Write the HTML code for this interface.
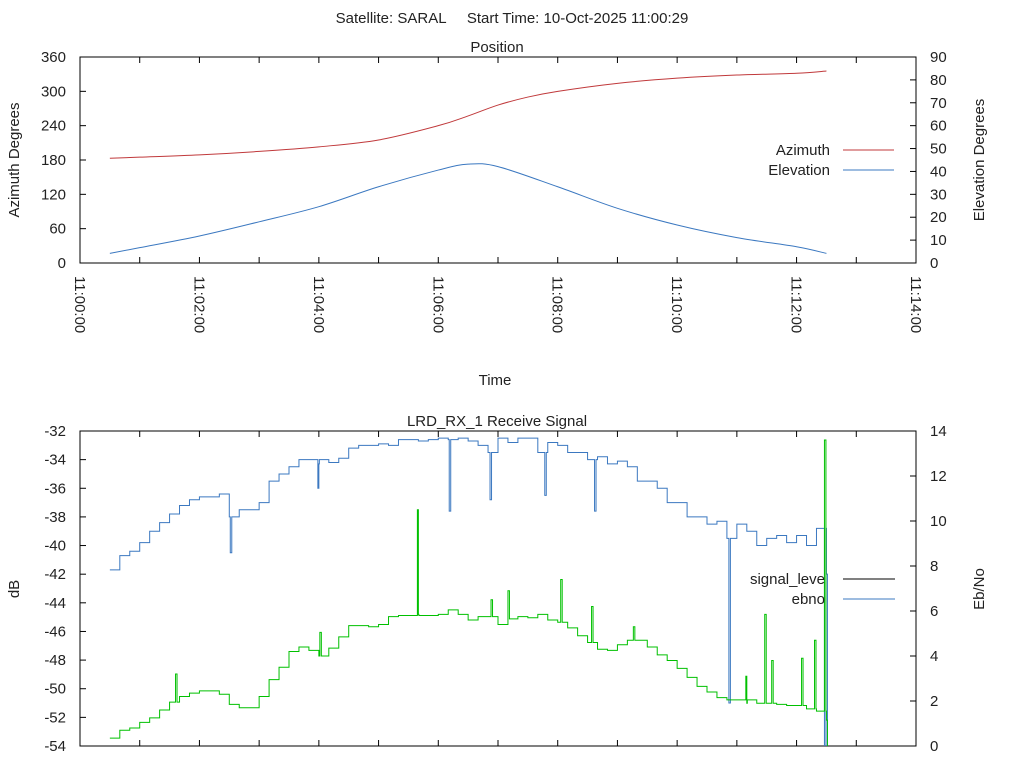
<!DOCTYPE html>
<html><head><meta charset="utf-8"><style>
body{margin:0;background:#fff}
svg{display:block;font-family:"Liberation Sans",sans-serif;font-size:15px;fill:#222}
</style></head><body>
<svg id="c" width="1024" height="768" xmlns="http://www.w3.org/2000/svg">
<defs>
<clipPath id="clipTop"><rect x="80" y="57" width="836" height="206"/></clipPath>
<clipPath id="clipBot"><rect x="80" y="431" width="836" height="315"/></clipPath>
</defs>
<text x="512" y="23" text-anchor="middle" style="white-space:pre">Satellite: SARAL     Start Time: 10-Oct-2025 11:00:29</text>
<g id="topPanel"></g>
<g id="botPanel"></g>
</svg>
<script>
// Position data (minutes after 11:00:00)
const posTimes = [0.5,1,2,3,4,5,6,6.5,7,7.5,8,9,10,11,12,12.5];
const azimuthValues = [183,185,189,195,203,215,240,257,276,290,300,314,323,328.5,331.5,335.5];
const elevTimes = [0.5,1,2,3,4,5,6,6.5,7,8,9,10,11,12,12.5];
const elevationValues = [4.2,6.7,11.8,18,24.6,33.3,40.6,43.2,42.1,33.3,23.9,16.6,11.1,7.1,4.2];
const xTickLabels = ["11:00:00","11:02:00","11:04:00","11:06:00","11:08:00","11:10:00","11:12:00","11:14:00"];
const azTicks = [0,60,120,180,240,300,360];
const elTicks = [0,10,20,30,40,50,60,70,80,90];
const dbTicks = [-32,-34,-36,-38,-40,-42,-44,-46,-48,-50,-52,-54];
const ebTicks = [0,2,4,6,8,10,12,14];
// Receive signal: sampled every 10 s from 30 s to 750 s
const sigStart = 30;
const signalValues = [-41.7,-40.7,-40.4,-39.8,-39,-38.4,-37.8,-37.2,-36.8,-36.6,-36.6,-36.4,-38,-37.5,-37.5,-37,-35.5,-35,-34.5,-34,-34,-34.3,-34.2,-33.9,-33.2,-33,-33,-32.9,-33,-32.6,-32.6,-32.7,-32.6,-32.5,-32.6,-32.5,-32.7,-33,-33.5,-32.5,-32.8,-32.5,-32.5,-33.5,-32.8,-33,-33.5,-33.5,-34,-33.8,-34.3,-34.1,-34.5,-35.5,-35.5,-36,-37,-37,-38,-38,-38.5,-38.3,-39.5,-38.5,-39,-40,-39.5,-39.3,-39.8,-39.3,-40,-38.8,-42];
const signalDipTimes = [151,239,371,412,467,517,652,748];
const signalDipValues = [-40.5,-36,-37.6,-36.8,-36.5,-37.6,-51,-55];
const ebnoValues = [0.35,0.7,0.8,1.05,1.25,1.6,1.95,2.2,2.35,2.45,2.45,2.3,1.85,1.7,1.7,2.2,2.95,3.5,4.2,4.4,4.25,4.0,4.35,4.85,5.35,5.35,5.3,5.4,5.75,5.8,5.8,5.85,5.8,5.85,6.05,5.85,5.6,5.75,5.75,5.4,5.65,5.75,5.7,5.85,5.6,5.5,5.25,4.9,4.6,4.3,4.25,4.5,4.7,4.7,4.4,4.05,3.8,3.45,3.05,2.65,2.4,2.15,2.05,2.05,1.9,1.9,1.9,1.85,1.8,1.8,1.65,1.55,1.15];
const ebnoSpikeTimes = [96,241,339,413,430,483,514,556,669,688,695,725,738,748];
const ebnoSpikeValues = [3.2,5.05,10.5,6.5,6.9,7.4,6.2,5.3,3.1,5.85,3.8,3.9,4.7,13.6];

const NS="http://www.w3.org/2000/svg";
function mk(parent,tag,attrs){const e=document.createElementNS(NS,tag);for(const k in attrs)e.setAttribute(k,attrs[k]);parent.appendChild(e);return e;}
const X0=80,X1=916;
const xSec=s=>X0+(X1-X0)*s/840;
const xMin=m=>xSec(m*60);
const topG=document.getElementById('topPanel'), botG=document.getElementById('botPanel');
const yAz=v=>263-206*v/360, yEl=v=>263-206*v/90;
const yDb=v=>431+315*(-32-v)/22, yEb=v=>746-315*v/14;

function frame(g,y0,y1,name){
  const r=mk(g,'rect',{x:X0,y:y0,width:X1-X0,height:y1-y0,fill:'none',stroke:'#000','stroke-width':1});
  
  
  for(let m=0;m<=14;m++){const x=xMin(m);
    mk(g,'line',{x1:x,y1:y1,x2:x,y2:y1-6,stroke:'#000'});
    mk(g,'line',{x1:x,y1:y0,x2:x,y2:y0+6,stroke:'#000'});}
}
// ---- Top panel
frame(topG,57,263,'position-plot-area');
let t=mk(topG,'text',{x:497,y:52,'text-anchor':'middle'});t.textContent='Position';


azTicks.forEach(v=>{const y=yAz(v);mk(topG,'line',{x1:X0,y1:y,x2:X0+6,y2:y,stroke:'#000'});
  const l=mk(topG,'text',{x:66,y:y+5,'text-anchor':'end'});l.textContent=v;
  
  });
elTicks.forEach(v=>{const y=yEl(v);mk(topG,'line',{x1:X1,y1:y,x2:X1-6,y2:y,stroke:'#000'});
  const l=mk(topG,'text',{x:930,y:y+5});l.textContent=v;
  
  });
xTickLabels.forEach((s,i)=>{const x=xMin(i*2);
  const l=mk(topG,'text',{x:0,y:0,transform:`translate(${x-5},276) rotate(90)`});l.textContent=s;
  
  });
t=mk(topG,'text',{x:0,y:0,transform:'translate(19,160) rotate(-90)','text-anchor':'middle'});t.textContent='Azimuth Degrees';


t=mk(topG,'text',{x:0,y:0,transform:'translate(984,160) rotate(-90)','text-anchor':'middle'});t.textContent='Elevation Degrees';


t=mk(topG,'text',{x:495,y:385,'text-anchor':'middle'});t.textContent='Time';


function smoothPath(pts){let d=`M${pts[0][0]},${pts[0][1]}`;
  for(let i=0;i<pts.length-1;i++){const p0=pts[Math.max(0,i-1)],p1=pts[i],p2=pts[i+1],p3=pts[Math.min(pts.length-1,i+2)];
    d+=`C${p1[0]+(p2[0]-p0[0])/6},${p1[1]+(p2[1]-p0[1])/6} ${p2[0]-(p3[0]-p1[0])/6},${p2[1]-(p3[1]-p1[1])/6} ${p2[0]},${p2[1]}`;}
  return d;}
let p=mk(topG,'path',{d:smoothPath(posTimes.map((m,i)=>[xMin(m),yAz(azimuthValues[i])])),fill:'none',stroke:'#c0393b','stroke-width':1,'clip-path':'url(#clipTop)'});


p=mk(topG,'path',{d:smoothPath(elevTimes.map((m,i)=>[xMin(m),yEl(elevationValues[i])])),fill:'none',stroke:'#3b78c0','stroke-width':1,'clip-path':'url(#clipTop)'});


[['Azimuth','#c0393b',150],['Elevation','#3b78c0',170]].forEach(([n,c,y])=>{
  const g=mk(topG,'g',{});
  
  
  const l=mk(g,'text',{x:830,y:y+5,'text-anchor':'end'});l.textContent=n;
  mk(g,'line',{x1:843,y1:y,x2:894,y2:y,stroke:c});});
// ---- Bottom panel
frame(botG,431,746,'signal-plot-area');
t=mk(botG,'text',{x:497,y:426,'text-anchor':'middle'});t.textContent='LRD_RX_1 Receive Signal';


dbTicks.forEach(v=>{const y=yDb(v);mk(botG,'line',{x1:X0,y1:y,x2:X0+6,y2:y,stroke:'#000'});
  const l=mk(botG,'text',{x:66,y:y+5,'text-anchor':'end'});l.textContent=v;
  
  });
ebTicks.forEach(v=>{const y=yEb(v);mk(botG,'line',{x1:X1,y1:y,x2:X1-6,y2:y,stroke:'#000'});
  const l=mk(botG,'text',{x:930,y:y+5});l.textContent=v;
  
  });
t=mk(botG,'text',{x:0,y:0,transform:'translate(19,589) rotate(-90)','text-anchor':'middle'});t.textContent='dB';


t=mk(botG,'text',{x:0,y:0,transform:'translate(984,589) rotate(-90)','text-anchor':'middle'});t.textContent='Eb/No';


function merge(vals,ts,vs){
  const a=vals.map((v,i)=>[sigStart+i*10,v]);
  ts.forEach((tt,i)=>{
    const k=Math.max(0,Math.min(vals.length-1,Math.floor((tt-sigStart)/10)));
    a.push([tt,vs[i]]);
    a.push([tt+1.5,vals[k]]);
  });
  a.sort((p,q)=>p[0]-q[0]);
  return a;}
function stepPath(pts,fx,fy){let d=`M${fx(pts[0][0])},${fy(pts[0][1])}`;
  for(let i=1;i<pts.length;i++){d+=`H${fx(pts[i][0])}V${fy(pts[i][1])}`;}return d;}
const sigPts=merge(signalValues,signalDipTimes,signalDipValues);
sigPts.push([sigStart+signalValues.length*10-9,-55]);
p=mk(botG,'path',{d:stepPath(sigPts,xSec,yDb),fill:'none',stroke:'#3b78c0','stroke-width':1,'clip-path':'url(#clipBot)'});


const ebPts=merge(ebnoValues,ebnoSpikeTimes,ebnoSpikeValues);
ebPts.push([sigStart+ebnoValues.length*10-9,0]);
p=mk(botG,'path',{d:stepPath(ebPts,xSec,yEb),fill:'none',stroke:'#00c000','stroke-width':1,'clip-path':'url(#clipBot)'});


[['signal_leve','#000',579],['ebno','#3b78c0',599]].forEach(([n,c,y])=>{
  const g=mk(botG,'g',{});
  
  
  const l=mk(g,'text',{x:825,y:y+5,'text-anchor':'end'});l.textContent=n;
  mk(g,'line',{x1:843,y1:y,x2:895,y2:y,stroke:c});});
</script>
</body></html>
